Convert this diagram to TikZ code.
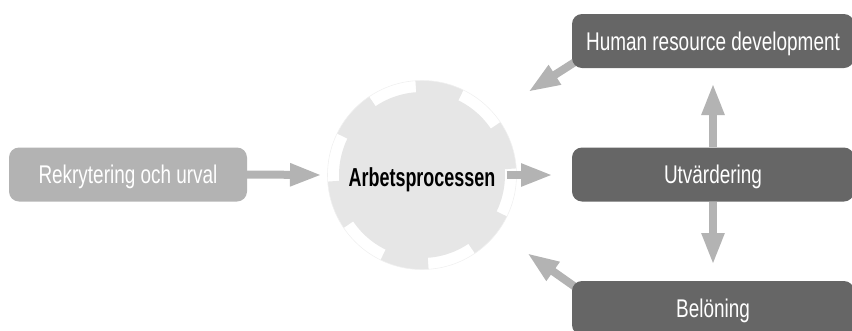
\documentclass[tikz,border=0pt]{standalone}
\usepackage{fontspec}
\newfontfamily\boxfont{Liberation Sans}[FakeStretch=0.74]
\newfontfamily\procfont{Liberation Sans}[FakeStretch=0.69]
\usetikzlibrary{arrows.meta}
\definecolor{arrowgray}{HTML}{B3B3B3}
\definecolor{lightbox}{HTML}{B3B3B3}
\definecolor{darkbox}{HTML}{666666}
\definecolor{gearfill}{HTML}{E6E6E6}
\definecolor{gearline}{HTML}{F0F0F0}
\pgfdeclarelayer{background}
\pgfsetlayers{background,main}
\tikzset{
  boxbase/.style={rectangle, rounded corners=10pt, inner sep=0pt,
    minimum height=54pt, text=white, text height=18.3pt, text depth=0pt,
    font=\boxfont\fontsize{25.6}{30}\selectfont},
  lightstep/.style={boxbase, fill=lightbox},
  darkstep/.style={boxbase, fill=darkbox, minimum width=282pt},
  conn/.style={draw=arrowgray, line width=8pt, -{Triangle[length=32pt,width=21pt]}},
}
\begin{document}
\begin{tikzpicture}[x=1pt,y=-1pt]
\useasboundingbox (0,0) rectangle (852,330);
% gear
\node[circle, minimum size=189pt, inner sep=0pt] (proc) at (422,175) {};
\begin{scope}[shift={(422,175)}]
  \fill[gearfill] (0,0) circle[radius=83];
  \foreach \a in {26,86,...,326}{
    \fill[gearfill] (\a:94.5) arc[start angle=\a, end angle=\a+30, radius=94.5]
      -- (\a+30:82.5) arc[start angle=\a+30, end angle=\a, radius=82.5] -- cycle;
  }
  \draw[gearline, line width=0.6pt] (0,0) circle[radius=94.5];
\end{scope}
\node[font=\procfont\bfseries\fontsize{26}{31}\selectfont, text height=18.6pt, text depth=0pt, inner sep=0pt] (proctext) at (422,177.5) {Arbetsprocessen};
% boxes
\node[lightstep, minimum width=238pt] (rek) at (128,174.5) {Rekrytering och urval};
\node[darkstep] (hrd) at (713,41) {Human resource development};
\node[darkstep] (utv) at (713,174.5) {Utvärdering};
\node[darkstep] (bel) at (713,308) {Belöning};
% tips
\coordinate (tipL) at (322,175);
\coordinate (tipR) at (553,175);
\coordinate (tipU) at (713,83);
\coordinate (tipD) at (713,265);
\coordinate (tipHRD) at (528,92);
\coordinate (tipBel) at (527,253);
% connectors
\draw[conn] (rek.east) -- (tipL);
\draw[conn] ([xshift=-10pt]proc.east) -- (tipR);
\draw[conn] (utv.north) -- (tipU);
\draw[conn] (utv.south) -- (tipD);
\begin{pgfonlayer}{background}
\draw[conn] ([shift={(6,-8)}]hrd.south west) -- (tipHRD);
\draw[conn] ([shift={(6,8)}]bel.north west) -- (tipBel);
\end{pgfonlayer}
\end{tikzpicture}
\end{document}
